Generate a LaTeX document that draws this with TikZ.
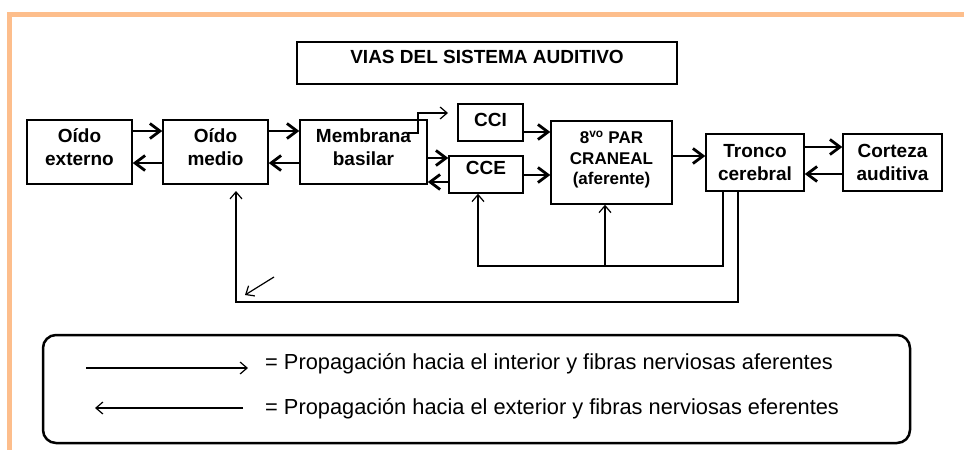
\documentclass[tikz,border=0pt]{standalone}
\usepackage{fontspec}
\setmainfont{Liberation Sans}
\usetikzlibrary{calc,arrows.meta}
\definecolor{marco}{RGB}{253,190,140}
\def\cajafont{\fontsize{19}{23}\selectfont\bfseries}
\def\parfont{\fontsize{17}{20.5}\selectfont\bfseries}
\def\leyfont{\fontsize{21.8}{25}\selectfont}
\tikzset{
	caja/.style={draw, line width=1.5pt, align=center, font=\cajafont, inner sep=0pt},
	grueso/.style={line width=2.8pt, -{Straight Barb[length=10pt,width=15pt]}},
	fino/.style={line width=1.2pt, -{Straight Barb[length=7pt,width=12pt]}},
}

\begin{document}
\begin{tikzpicture}[x=1pt, y=-1pt]
		%%%%% START %%%%%
		\useasboundingbox (0, 0) rectangle (964, 450);
		
		\draw[line width=5pt, color=marco] (964, 14.5) -- (9, 14.5) -- (9, 450);
		
		\node[caja, minimum width=380pt, minimum height=42pt, text height=13.6pt, text depth=13.6pt] (titulo) at (487, 63) {VIAS DEL SISTEMA AUDITIVO};
		
		\node[caja, minimum width=105pt, minimum height=64pt, text depth=10pt] (oe) at (79.5, 152) {Oído\\externo};
		\node[caja, minimum width=105pt, minimum height=64pt, text depth=10pt] (om) at (215.5, 152) {Oído\\medio};
		\node[caja, minimum width=127pt, minimum height=64pt, text depth=10pt] (mb) at (363.5, 152) {Membrana\\basilar};
		\node[caja, minimum width=65pt, minimum height=37pt, text depth=5pt] (cci) at (490.5, 122.5) {CCI};
		\node[caja, minimum width=74pt, minimum height=37pt, text depth=14pt] (cce) at (486, 174.5) {CCE};
		\node[caja, minimum width=121pt, minimum height=83pt, font=\parfont, text depth=9.6pt] (par) at (611.5, 162.5) {8\textsuperscript{vo} PAR\\CRANEAL\\(aferente)};
		\node[caja, minimum width=98pt, minimum height=57pt] (tc) at (755, 162.5) {Tronco\\cerebral};
		\node[caja, minimum width=99pt, minimum height=57pt] (ca) at (892.5, 162.5) {Corteza\\auditiva};
		
		\draw[grueso] (oe.east |- 0,131) -- (om.west |- 0,131);
		\draw[grueso] (om.west |- 0,163) -- (oe.east |- 0,163);
		\draw[grueso] (om.east |- 0,131) -- (mb.west |- 0,131);
		\draw[grueso] (mb.west |- 0,163) -- (om.east |- 0,163);
		\draw[grueso] (mb.east |- 0,158) -- (cce.west |- 0,158);
		\draw[grueso] (cce.west |- 0,182) -- (mb.east |- 0,182);
		\draw[grueso] (cci.east |- 0,132) -- (par.west |- 0,132);
		\draw[grueso] (cce.east |- 0,175) -- (par.west |- 0,175);
		\draw[grueso] (par.east |- 0,156) -- (tc.west |- 0,156);
		\draw[grueso] (tc.east |- 0,147) -- (ca.west |- 0,147);
		\draw[grueso] (ca.west |- 0,174) -- (tc.east |- 0,174);
		
		\coordinate (mbin) at (408, 133);
		\coordinate (ccitip) at (448, 113);
		\draw[fino] (mbin) -- ++(10, 0) |- (ccitip);
		
		\coordinate (lazoA) at (723, 266);
		\draw[fino] (tc.south -| lazoA) -- (lazoA) -| (cce.south -| 478,0);
		\draw[fino] (605, 266) -- (par.south -| 605,0);
		
		\coordinate (lazoB) at (738, 302);
		\coordinate (omtip) at (236, 191);
		\draw[fino] (tc.south -| lazoB) -- (lazoB) -| (omtip);
		
		\coordinate (diagA) at (274, 277);
		\coordinate (diagB) at (245, 295);
		\draw[fino] (diagA) -- (diagB);
		
		\node[draw, line width=2.5pt, rounded corners=13pt, minimum width=867pt, minimum height=108pt] (leyenda) at (476.5, 389) {};
		
		\coordinate (leyA1) at (86, 368);
		\coordinate (leyA2) at (248, 368);
		\coordinate (leyB1) at (243, 408);
		\coordinate (leyB2) at (95, 408);
		\draw[fino] (leyA1) -- (leyA2);
		\draw[fino] (leyB1) -- (leyB2);
		\node[anchor=base west, font=\leyfont, inner sep=0pt] (textoA) at (265, 369) {= Propagación hacia el interior y fibras nerviosas aferentes};
		\node[anchor=base west, font=\leyfont, inner sep=0pt] (textoB) at (265, 414) {= Propagación hacia el exterior y fibras nerviosas eferentes};
		
		%%%%% END %%%%%
\end{tikzpicture}
\end{document}
